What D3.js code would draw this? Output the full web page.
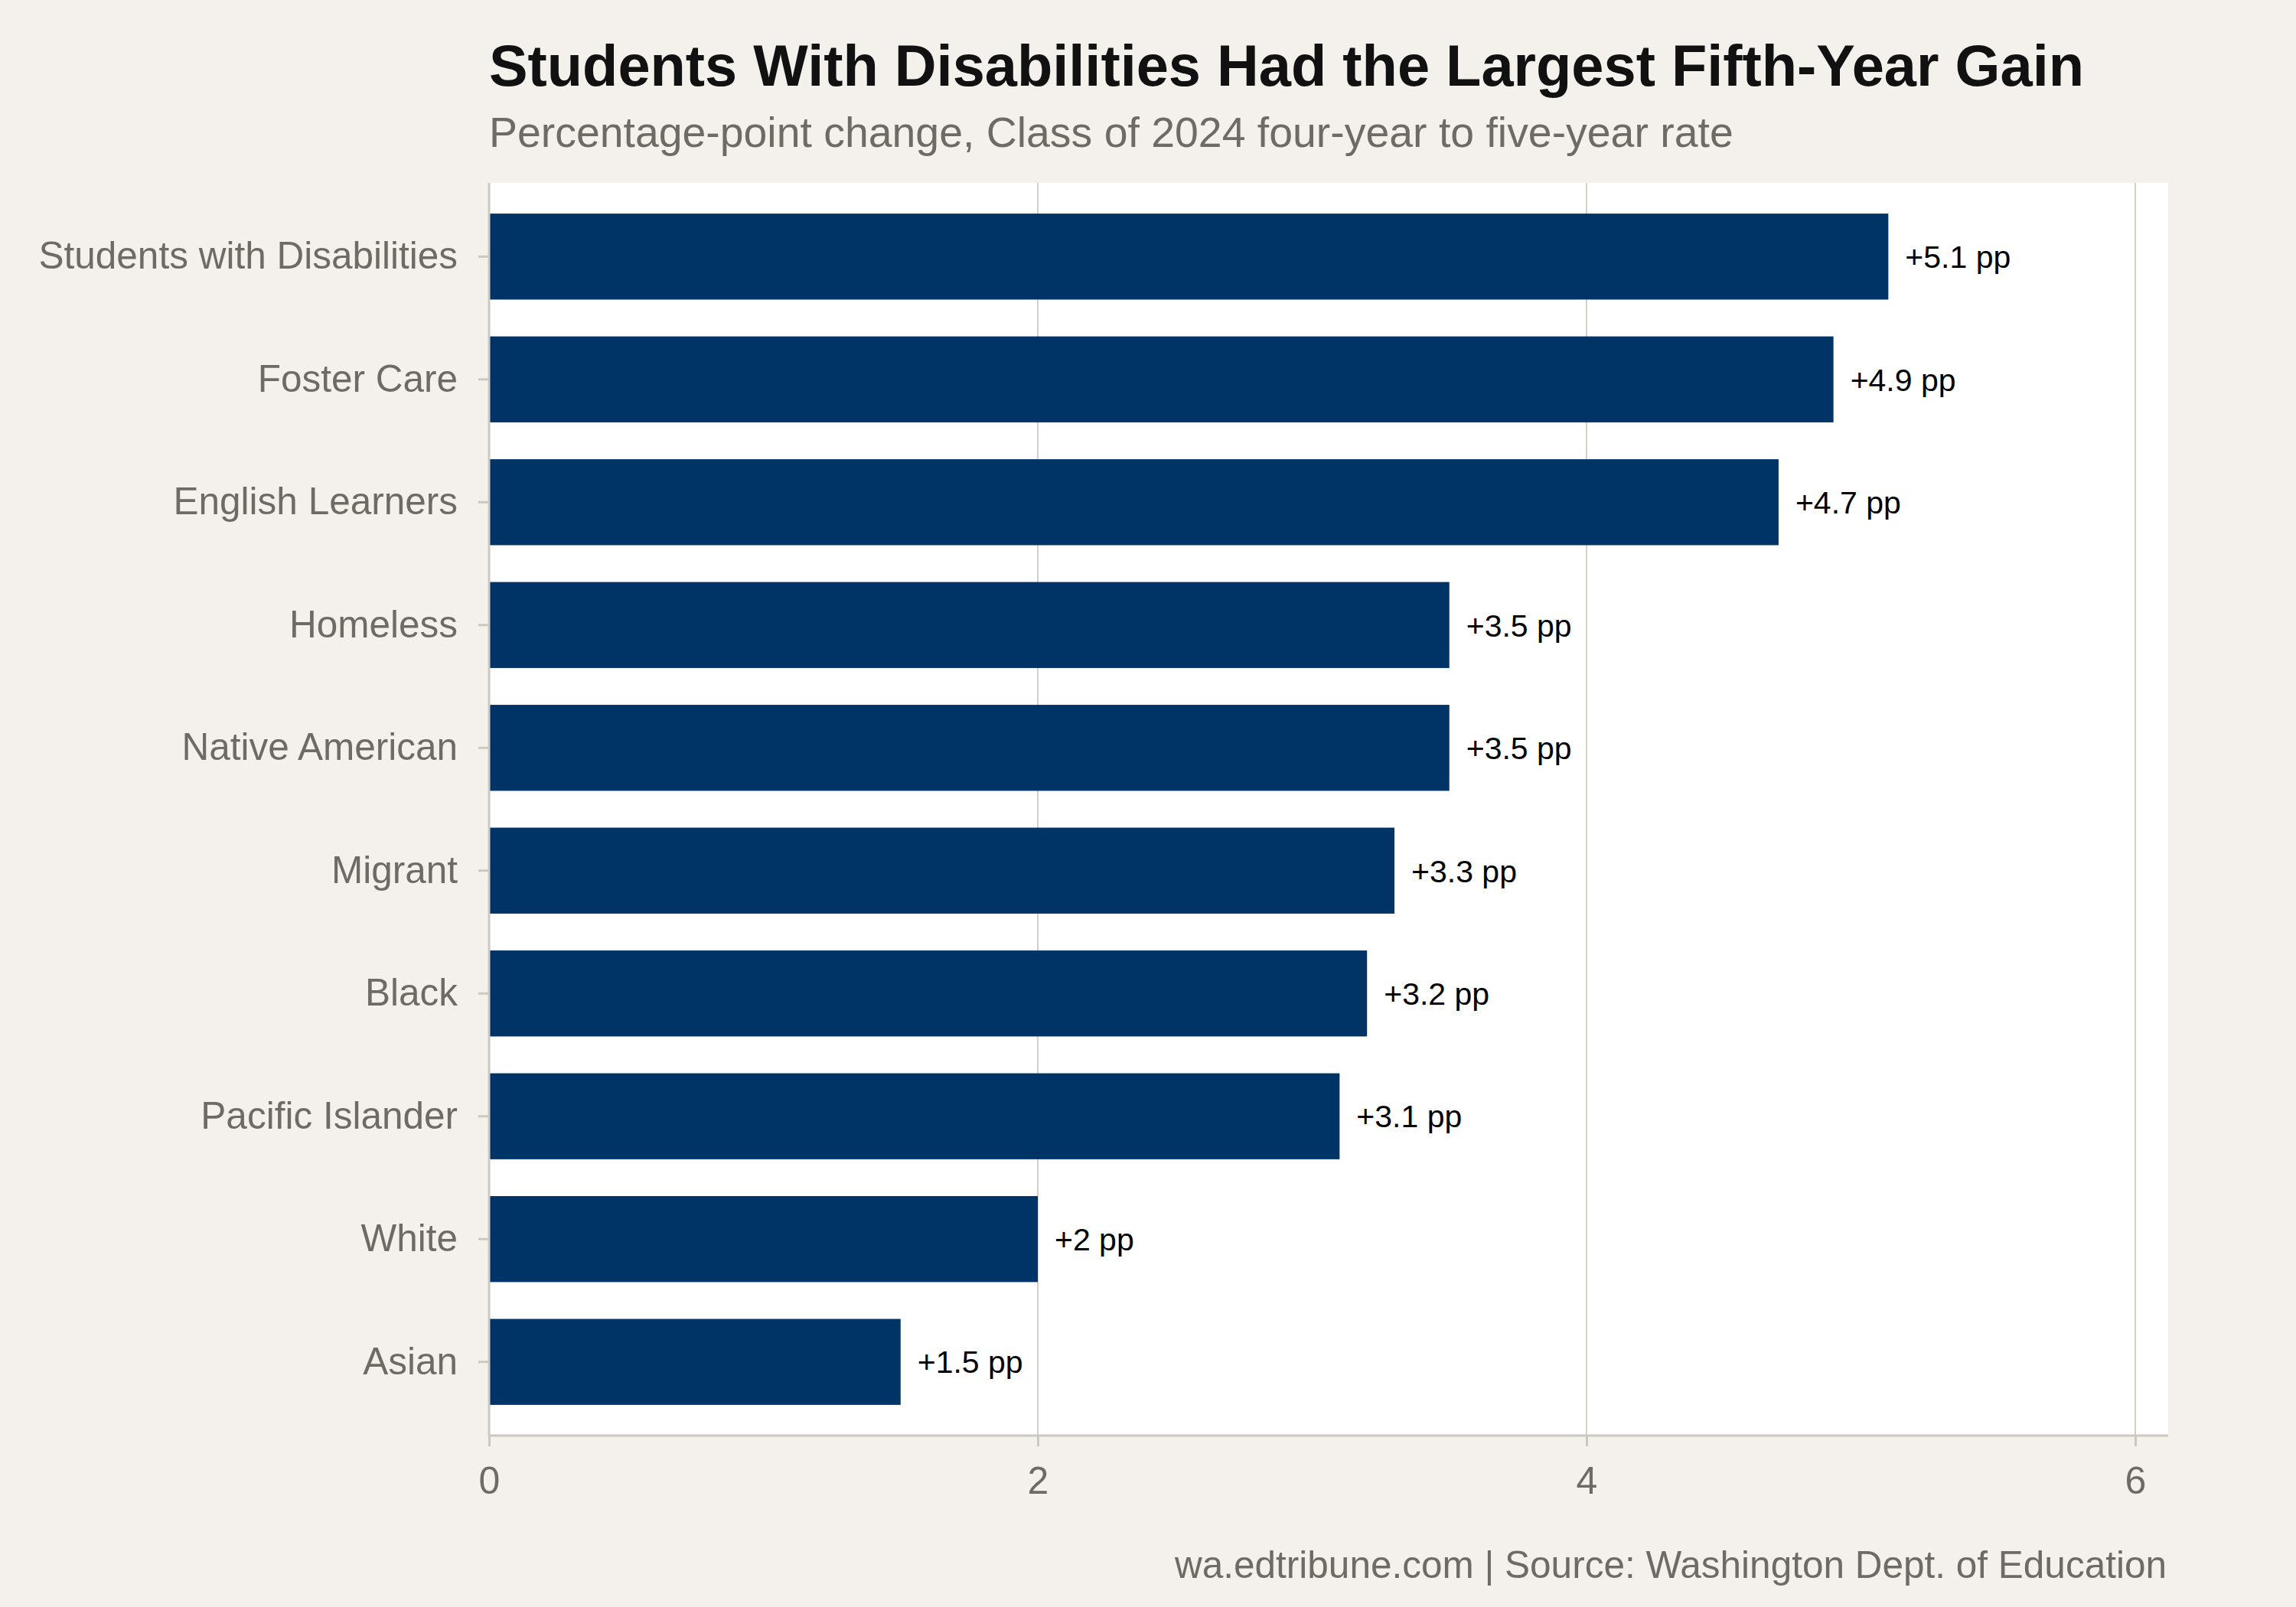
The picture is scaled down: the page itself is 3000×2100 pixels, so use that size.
<!DOCTYPE html>
<html>
<head>
<meta charset="utf-8">
<script src="https://cdn.jsdelivr.net/npm/d3@7"></script>
<style>
  body { margin: 0; background: #f4f1ec; }
  svg { display: block; font-family: "Liberation Sans", Arial, Helvetica, sans-serif; }
</style>
</head>
<body>
<svg width="3000" height="2100"></svg>
<script>
// Data, top to bottom
var groups = ["Students with Disabilities", "Foster Care", "English Learners", "Homeless",
              "Native American", "Migrant", "Black", "Pacific Islander", "White", "Asian"];
var gains = [5.1, 4.9, 4.7, 3.5, 3.5, 3.3, 3.2, 3.1, 2, 1.5];
var xTicks = [0, 2, 4, 6];

var title = "Students With Disabilities Had the Largest Fifth-Year Gain";
var subtitle = "Percentage-point change, Class of 2024 four-year to five-year rate";
var caption = "wa.edtribune.com | Source: Washington Dept. of Education";

var margin = {top: 239, right: 167, bottom: 224, left: 639},
    width = 3000 - margin.left - margin.right,
    height = 2100 - margin.top - margin.bottom;

var svg = d3.select("svg");

svg.append("rect")
    .attr("width", 3000)
    .attr("height", 2100)
    .attr("fill", "#f4f1ec");

// Titles
svg.append("text")
    .attr("x", margin.left)
    .attr("y", 112)
    .attr("font-size", 75.8)
    .attr("font-weight", "bold")
    .attr("fill", "#111111")
    .text(title);

svg.append("text")
    .attr("x", margin.left)
    .attr("y", 192)
    .attr("font-size", 55.4)
    .attr("fill", "#6e6a64")
    .text(subtitle);

svg.append("text")
    .attr("x", margin.left + width - 2)
    .attr("y", 2062)
    .attr("text-anchor", "end")
    .attr("font-size", 49.5)
    .attr("fill", "#6e6a64")
    .text(caption);

var g = svg.append("g")
    .attr("transform", "translate(" + margin.left + "," + margin.top + ")");

// Panel
g.append("rect")
    .attr("width", width)
    .attr("height", height)
    .attr("fill", "#ffffff");

var x = d3.scaleLinear()
    .domain([0, 6.12])
    .range([0, width]);

var y = d3.scaleBand()
    .domain(groups)
    .range([0, height])
    .paddingInner(0.3)
    .paddingOuter(0.25);

// Vertical gridlines
g.selectAll(".grid")
    .data(xTicks.filter(function(d) { return d > 0; }))
  .enter().append("line")
    .attr("class", "grid")
    .attr("x1", function(d) { return x(d); })
    .attr("x2", function(d) { return x(d); })
    .attr("y1", 0)
    .attr("y2", height)
    .attr("stroke", "#d4cfc7")
    .attr("stroke-width", 2);

// Bars
g.selectAll(".bar")
    .data(gains)
  .enter().append("rect")
    .attr("class", "bar")
    .attr("x", x(0))
    .attr("y", function(d, i) { return y(groups[i]); })
    .attr("width", function(d) { return x(d) - x(0); })
    .attr("height", y.bandwidth())
    .attr("fill", "#003366");

// Value labels
g.selectAll(".label")
    .data(gains)
  .enter().append("text")
    .attr("class", "label")
    .attr("x", function(d) { return x(d) + 22; })
    .attr("y", function(d, i) { return y(groups[i]) + y.bandwidth() / 2; })
    .attr("dy", "0.36em")
    .attr("font-size", 41)
    .attr("fill", "#000000")
    .text(function(d) { return "+" + d + " pp"; });

// Axes
var xAxis = g.append("g")
    .attr("transform", "translate(0," + height + ")")
    .call(d3.axisBottom(x).tickValues(xTicks).tickFormat(d3.format("d")).tickSize(14).tickPadding(26));

var yAxis = g.append("g")
    .call(d3.axisLeft(y).tickSize(14).tickPadding(27));

[xAxis, yAxis].forEach(function(ax) {
  ax.select(".domain").attr("stroke", "#cdc8bf").attr("stroke-width", 3);
  ax.selectAll(".tick line").attr("stroke", "#cdc8bf").attr("stroke-width", 3);
  ax.selectAll(".tick text")
      .attr("fill", "#6e6a64")
      .attr("font-family", "'Liberation Sans', Arial, Helvetica, sans-serif");
});
xAxis.select(".domain").attr("d", "M0,0H" + width);
yAxis.select(".domain").attr("d", "M0,0V" + height);
xAxis.selectAll(".tick text").attr("font-size", 50);
yAxis.selectAll(".tick text").attr("font-size", 49.5);
</script>
</body>
</html>
